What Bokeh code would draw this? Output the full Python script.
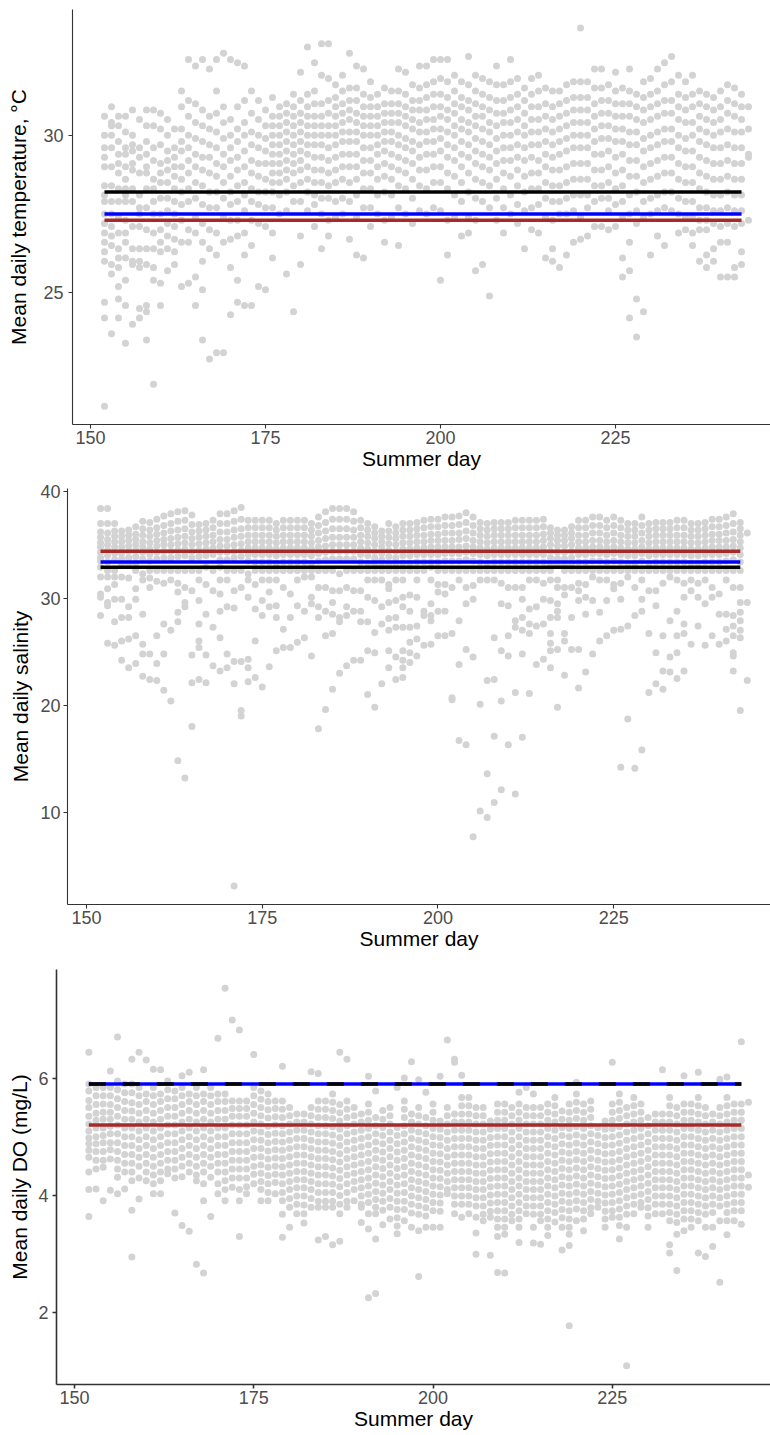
from bokeh.plotting import figure
from bokeh.models import Range1d, FixedTicker
from bokeh.embed import file_html
from bokeh.resources import INLINE

# ---------------- data ----------------
days = list(range(152, 245))
x_ticks = [150, 175, 200, 225]
line_days = [152, 243]

temp_vals = [
    [30.6,30.0,29.6,29.3,29.0,28.4,28.1,27.9,27.5,27.2,26.9,26.6,26.3,26.0,24.7,24.2,21.4],
    [30.9,30.4,30.3,30.0,29.6,29.0,28.4,27.9,27.5,27.1,26.8,26.5,25.9,25.6,23.7],
    [30.6,30.3,29.8,29.4,29.1,28.8,28.3,27.9,27.4,26.9,26.4,26.1,25.8,25.2,24.8,24.2],
    [30.6,30.1,29.6,29.4,29.0,28.6,28.3,28.1,27.9,27.3,26.9,26.6,26.1,25.4,24.6,23.4],
    [30.8,30.0,29.7,29.5,29.1,28.9,28.3,27.9,27.1,26.4,26.0,25.9,24.0],
    [30.5,29.6,29.3,28.8,28.1,27.7,27.5,27.1,26.4,26.0,25.8,24.5,24.2],
    [30.8,30.3,29.8,29.4,29.0,28.8,28.3,27.7,27.0,26.4,25.9,24.6,24.4,23.5],
    [30.8,30.3,29.6,29.2,28.6,28.3,27.9,27.5,26.9,26.4,25.8,25.4,22.1],
    [30.7,30.2,29.7,29.1,28.8,28.5,28.0,27.5,27.0,26.6,26.3,25.3,24.6],
    [30.5,30.0,29.5,29.2,28.9,28.5,28.0,27.6,27.2,26.8,26.4,25.7],
    [30.2,29.6,29.3,29.0,28.7,28.3,27.9,27.5,27.1,26.7,26.3,25.9],
    [31.4,30.9,30.2,29.8,29.5,29.0,28.6,28.2,27.8,27.3,26.6,25.2],
    [32.4,31.1,30.6,30.0,29.6,29.2,28.8,28.3,27.9,27.0,26.6,25.3],
    [32.2,31.0,30.4,29.9,29.4,29.0,28.5,28.0,27.4,26.9,25.5,24.6],
    [32.4,30.8,30.3,29.8,29.3,28.9,28.4,27.8,27.2,26.6,26.0,25.1,23.5],
    [32.1,30.6,30.2,29.7,29.3,28.8,28.2,27.7,27.0,26.4,22.9],
    [32.4,31.4,30.7,30.1,29.6,29.1,28.7,28.2,27.7,26.9,26.2,23.1],
    [32.6,30.9,30.4,29.9,29.4,29.0,28.5,28.0,27.4,26.6,23.1],
    [32.4,30.5,30.0,29.6,29.2,28.7,28.2,27.8,27.3,26.7,25.8,24.3],
    [32.3,30.9,30.2,29.8,29.3,28.9,28.4,27.9,27.3,26.8,25.4,24.7],
    [32.2,31.1,30.4,30.0,29.5,29.0,28.5,28.1,27.6,26.9,26.2,24.6],
    [31.4,30.7,30.1,29.7,29.2,28.8,28.3,27.9,27.3,26.5,24.6],
    [31.1,30.5,30.0,29.6,29.1,28.7,28.2,27.8,27.2,25.2],
    [30.8,30.3,29.9,29.5,29.1,28.6,28.2,27.7,27.1,25.1],
    [31.2,30.6,30.3,30.0,29.7,29.4,29.1,28.8,28.5,28.2,27.7,26.9,26.1],
    [30.9,30.6,30.3,30.0,29.7,29.4,29.1,28.8,28.5,28.1,27.5],
    [31.0,30.7,30.4,30.1,29.8,29.5,29.2,28.9,28.6,28.2,27.6,25.6],
    [31.3,30.9,30.6,30.3,30.0,29.7,29.4,29.1,28.8,28.4,27.9,24.4],
    [32.0,31.1,30.7,30.4,30.1,29.8,29.5,29.2,28.9,28.5,27.9,26.8,25.9],
    [32.8,31.3,30.9,30.6,30.3,30.0,29.7,29.4,29.0,28.6,28.2,27.6],
    [32.3,31.4,31.0,30.6,30.3,30.0,29.7,29.3,28.9,28.5,28.1,27.8,27.1],
    [32.9,31.9,31.0,30.6,30.3,30.0,29.7,29.3,28.9,28.5,28.0,27.5,26.4],
    [32.9,31.8,31.1,30.7,30.3,30.0,29.6,29.2,28.8,28.4,28.0,27.3,26.8],
    [31.6,31.2,30.9,30.6,30.3,30.0,29.7,29.3,28.9,28.5,27.9,27.4],
    [31.9,31.4,31.0,30.7,30.4,30.1,29.8,29.4,29.0,28.6,28.0,27.5],
    [32.6,31.5,31.1,30.8,30.5,30.1,29.8,29.4,29.0,28.5,27.9,26.7],
    [32.2,31.5,31.1,30.7,30.4,30.1,29.8,29.4,29.0,28.6,28.1,27.4,26.2],
    [32.1,31.3,30.9,30.6,30.3,30.0,29.6,29.2,28.8,28.3,27.7,26.1],
    [31.7,31.2,30.9,30.6,30.3,30.0,29.6,29.2,28.8,28.3,27.7,27.1],
    [31.3,30.9,30.6,30.3,30.0,29.7,29.4,29.0,28.6,28.1,27.5],
    [31.5,31.0,30.7,30.4,30.1,29.8,29.5,29.1,28.7,28.2,27.3,26.6],
    [31.4,31.0,30.7,30.4,30.1,29.8,29.4,29.0,28.6,28.1,27.4],
    [32.1,31.4,31.0,30.7,30.4,30.0,29.7,29.3,28.9,28.4,27.7,26.5],
    [32.0,31.3,30.9,30.6,30.3,29.9,29.6,29.2,28.8,28.3,27.5],
    [31.6,31.1,30.8,30.5,30.2,29.8,29.5,29.1,28.6,28.0,27.2],
    [32.2,31.5,31.1,30.8,30.4,30.1,29.7,29.3,28.9,28.4,27.6],
    [32.2,31.6,31.2,30.8,30.5,30.1,29.8,29.4,28.9,28.3,27.5],
    [32.4,31.7,31.3,30.9,30.5,30.2,29.8,29.4,29.0,28.5,27.7],
    [32.4,31.8,31.3,30.9,30.6,30.2,29.9,29.5,29.0,28.5,27.6,25.4],
    [32.4,31.7,31.2,30.8,30.5,30.1,29.7,29.3,28.8,28.3,27.3,26.2],
    [31.9,31.4,31.0,30.7,30.3,30.0,29.6,29.2,28.7,28.1,27.4],
    [31.7,31.2,30.9,30.5,30.2,29.8,29.4,29.0,28.5,27.9,26.8],
    [32.5,31.6,31.1,30.8,30.4,30.1,29.7,29.3,28.8,28.2,27.4,26.9],
    [31.9,31.4,31.0,30.6,30.3,29.9,29.5,29.1,28.6,28.0,27.3,25.7],
    [31.8,31.3,30.9,30.6,30.2,29.8,29.4,29.0,28.5,27.9,25.9],
    [31.7,31.2,30.8,30.4,30.1,29.7,29.3,28.9,28.4,27.7,24.9],
    [32.2,31.6,31.1,30.7,30.3,29.9,29.5,29.1,28.6,28.0,27.3],
    [31.6,31.1,30.7,30.4,30.0,29.6,29.2,28.8,28.3,27.7,26.9],
    [32.4,31.7,31.2,30.8,30.4,30.0,29.6,29.2,28.7,28.1,27.5],
    [31.8,31.3,30.9,30.5,30.1,29.7,29.3,28.9,28.4,27.8,27.2],
    [31.5,31.1,30.7,30.3,30.0,29.6,29.2,28.7,28.2,27.6,26.4],
    [31.8,31.3,30.9,30.5,30.1,29.7,29.3,28.8,28.3,27.7,27.0],
    [31.9,31.4,30.9,30.5,30.1,29.7,29.2,28.8,28.3,27.8,26.9],
    [31.5,31.0,30.6,30.2,29.8,29.4,29.0,28.5,28.0,27.4,26.1],
    [31.4,30.9,30.5,30.1,29.7,29.3,28.9,28.4,27.9,27.3,26.4,26.0],
    [31.4,31.0,30.6,30.2,29.8,29.4,28.9,28.4,27.9,27.5,25.8],
    [31.6,31.1,30.7,30.3,29.9,29.5,29.0,28.5,28.0,27.5,26.2],
    [31.7,31.2,30.8,30.4,30.0,29.6,29.1,28.6,28.1,27.6,26.6],
    [33.4,31.7,31.2,30.8,30.4,30.0,29.6,29.1,28.6,28.1,27.4,26.7],
    [31.7,31.2,30.8,30.4,30.0,29.6,29.1,28.6,28.1,27.7,26.8],
    [32.1,31.5,31.0,30.6,30.2,29.8,29.4,28.9,28.4,27.9,27.1],
    [32.1,31.5,31.1,30.7,30.3,29.9,29.4,28.9,28.4,28.0,27.1],
    [31.6,31.1,30.7,30.3,29.9,29.5,29.0,28.5,28.0,27.6,27.0],
    [32.0,31.4,31.0,30.6,30.2,29.8,29.3,28.8,28.3,27.8,27.1],
    [31.5,31.0,30.6,30.2,29.8,29.4,28.9,28.4,27.9,27.4,26.1,25.5],
    [32.1,31.4,31.0,30.6,30.1,29.7,29.2,28.7,28.1,27.5,26.6,25.7,24.2],
    [31.3,30.9,30.5,30.1,29.7,29.2,28.7,28.2,27.6,27.2,24.8,23.6],
    [31.7,31.2,30.8,30.4,29.9,29.5,29.0,28.5,27.9,27.4,24.4],
    [31.8,31.3,30.9,30.5,30.0,29.6,29.1,28.6,28.0,27.5,26.2],
    [32.1,31.4,31.0,30.6,30.1,29.7,29.2,28.7,28.1,27.6,26.8],
    [32.3,31.6,31.1,30.7,30.2,29.8,29.3,28.8,28.2,27.7,26.5],
    [32.5,31.7,31.1,30.7,30.2,29.8,29.3,28.8,28.2,27.6],
    [31.9,31.3,30.9,30.5,30.0,29.6,29.1,28.6,28.0,27.5,26.9],
    [31.7,31.2,30.8,30.4,29.9,29.5,29.0,28.5,27.9,27.4,27.0],
    [31.9,31.3,30.9,30.4,30.0,29.5,29.0,28.5,27.9,27.4,26.9,26.5],
    [31.4,31.0,30.6,30.2,29.8,29.3,28.8,28.3,27.7,27.3,27.0,26.0],
    [31.3,30.9,30.5,30.1,29.7,29.2,28.7,28.2,27.7,27.3,27.0,26.2,25.8],
    [31.2,30.8,30.4,30.0,29.6,29.1,28.6,28.1,27.6,27.2,26.4,26.0],
    [31.4,30.9,30.5,30.1,29.6,29.1,28.6,28.1,27.6,27.1,26.6,25.5],
    [31.6,31.1,30.7,30.2,29.7,29.2,28.7,28.2,27.7,27.2,26.6,25.5],
    [31.5,31.0,30.6,30.1,29.6,29.1,28.6,28.1,27.6,27.1,25.8,25.5],
    [31.3,30.9,30.5,30.1,29.6,29.1,28.6,28.1,27.6,27.2,26.3,25.9],
    [30.9,30.2,29.4,29.3,27.3],
]

sal_vals = [
    [38.4,37.0,36.2,35.7,35.2,34.8,34.3,33.8,33.5,32.9,32.0,30.4,30.1,28.4],
    [38.4,37.0,36.1,35.5,35.0,34.5,34.0,33.4,32.6,32.0,30.9,29.6,29.3,25.8],
    [37.0,36.3,35.8,35.3,34.8,34.2,33.6,32.6,32.0,31.3,29.9,27.8,25.6],
    [36.3,35.8,35.3,34.8,34.2,33.7,33.1,32.0,29.9,28.2,26.0,24.2],
    [36.4,35.9,35.4,34.9,34.4,33.8,33.2,31.9,29.2,28.2,26.2,23.5],
    [36.7,36.0,35.5,35.0,34.5,33.9,33.3,32.6,30.9,29.9,26.5,23.9],
    [37.2,36.5,35.9,35.3,34.8,34.3,33.7,32.3,31.7,28.5,25.7,24.8,22.7],
    [37.1,36.4,35.8,35.2,34.6,34.1,33.5,32.6,31.9,31.0,24.8,22.4],
    [37.4,36.6,36.0,35.4,34.9,34.3,33.7,32.6,31.6,26.5,23.9,22.3],
    [37.7,36.8,36.1,35.5,35.0,34.4,33.8,32.6,31.4,27.6,24.8,21.4],
    [37.9,37.0,36.3,35.6,35.0,34.4,33.8,32.6,31.7,27.0,20.4],
    [38.1,37.2,36.4,35.7,35.1,34.5,33.9,32.6,31.4,30.6,28.7,27.8,14.8],
    [38.2,37.3,36.5,35.8,35.2,34.6,34.0,32.6,31.0,29.6,29.2,13.2],
    [37.8,36.9,36.2,35.6,35.0,34.4,33.8,32.6,30.7,24.7,22.1,18.0],
    [36.9,36.3,35.7,35.1,34.5,33.9,32.6,31.7,29.8,27.6,26.0,25.4,22.4],
    [37.0,36.4,35.8,35.2,34.6,34.0,32.9,31.3,28.5,24.7,22.1],
    [37.3,36.6,35.9,35.3,34.7,34.1,32.6,30.7,27.3,23.7],
    [37.9,37.0,36.2,35.5,34.9,34.3,33.6,32.9,31.7,30.4,28.8,26.3,23.2],
    [37.9,37.0,36.2,35.5,34.9,34.3,33.6,32.6,31.7,29.2,24.8,23.5],
    [38.2,37.2,36.4,35.7,35.0,34.4,33.8,32.6,30.7,29.1,24.1,22.0,3.1],
    [38.5,37.4,36.5,35.8,35.1,34.5,33.9,32.6,31.0,24.1,19.5,19.0],
    [37.3,36.6,35.9,35.3,34.7,34.1,33.5,32.3,31.7,30.1,24.3,23.5,22.2],
    [37.3,36.6,35.9,35.3,34.7,34.1,33.4,32.6,31.3,29.0,26.0,22.6],
    [37.3,36.6,35.9,35.3,34.7,34.1,33.4,32.6,31.7,29.8,28.4,21.7],
    [37.3,36.6,35.9,35.3,34.7,34.1,33.4,32.6,31.7,30.6,29.2,23.6],
    [37.0,36.4,35.8,35.2,34.6,34.0,33.3,32.6,31.7,29.3,28.2,25.1],
    [37.3,36.6,35.9,35.3,34.7,34.1,33.4,32.6,31.0,27.1,25.4],
    [37.3,36.6,35.9,35.3,34.7,34.1,33.4,32.6,30.4,28.2,25.4],
    [37.3,36.6,35.9,35.3,34.7,34.1,33.4,32.6,31.7,29.3,25.9],
    [37.3,36.6,35.9,35.3,34.7,34.1,33.4,32.6,32.0,28.8,26.3],
    [37.0,36.4,35.8,35.2,34.6,34.0,33.3,32.6,32.0,30.1,29.5,24.6],
    [37.6,36.8,36.1,35.4,34.8,34.2,33.5,32.6,31.0,29.2,28.2,17.8],
    [38.1,37.1,36.3,35.6,34.9,34.3,33.6,32.6,31.0,28.8,26.5,19.6],
    [38.4,37.4,36.5,35.7,35.0,34.4,33.7,32.6,30.7,29.6,28.5,26.7,21.5],
    [38.4,37.4,36.5,35.7,35.0,34.4,33.7,32.3,30.7,28.2,27.8,23.0],
    [38.4,37.4,36.5,35.7,35.0,34.4,33.7,32.6,31.0,29.2,28.4,23.7],
    [38.1,37.2,36.4,35.7,35.0,34.4,33.7,32.6,30.7,28.8,24.2],
    [37.3,36.6,35.9,35.3,34.7,34.1,33.4,32.6,30.7,28.8,27.8,24.2],
    [37.0,36.4,35.8,35.2,34.6,34.0,33.3,32.6,31.7,30.1,27.8,25.1,21.0],
    [36.7,36.1,35.6,35.0,34.4,33.8,33.2,32.6,31.7,29.8,26.8,24.9,19.8],
    [36.3,35.8,35.3,34.8,34.2,33.6,33.0,32.6,31.7,29.2,27.6,22.0],
    [37.0,36.3,35.7,35.1,34.5,33.9,33.2,32.6,31.3,30.9,29.6,28.1,27.0,25.1,23.5],
    [36.7,36.1,35.6,35.0,34.4,33.8,33.2,32.6,31.7,29.8,28.2,27.3,24.5,22.4],
    [37.0,36.4,35.8,35.2,34.6,34.0,33.3,32.6,31.7,30.1,29.2,27.3,25.1,24.2,23.5,22.6],
    [37.0,36.4,35.8,35.2,34.6,34.0,33.3,32.6,30.3,28.8,27.3,25.9,24.9,24.0],
    [37.1,36.5,35.9,35.3,34.7,34.1,33.4,32.6,31.7,30.1,27.4,26.2,24.6],
    [37.3,36.6,35.9,35.3,34.7,34.1,33.4,32.6,28.8,28.4,25.6],
    [37.4,36.7,36.0,35.4,34.8,34.1,33.4,32.9,31.7,29.5,28.4,27.9,25.7],
    [37.4,36.7,36.0,35.4,34.8,34.1,33.4,32.6,31.3,30.6,28.8,26.5],
    [37.6,36.8,36.1,35.4,34.8,34.2,33.5,32.6,31.3,30.4,28.8,26.5],
    [37.6,36.8,36.1,35.4,34.8,34.2,33.5,32.6,31.0,26.7,20.7,20.5],
    [37.7,36.9,36.1,35.5,34.8,34.2,33.5,32.6,31.7,27.9,23.8,16.7],
    [38.0,37.1,36.3,35.6,34.9,34.3,33.6,32.6,31.0,29.5,25.2,16.3],
    [37.6,36.8,36.1,35.4,34.8,34.2,33.5,32.6,31.2,29.9,24.5,7.7],
    [37.1,36.5,35.9,35.3,34.7,34.1,33.4,32.6,31.7,20.1,10.1],
    [37.0,36.4,35.8,35.2,34.6,34.0,33.3,32.6,31.7,22.3,13.6,9.5],
    [37.1,36.5,35.9,35.3,34.7,34.1,33.4,32.6,31.7,26.3,22.4,17.1,10.9],
    [37.1,36.5,35.9,35.3,34.7,34.1,33.4,32.6,31.4,29.5,25.1,20.4,12.1],
    [37.1,36.5,35.9,35.3,34.7,34.1,33.4,32.6,31.0,29.3,26.5,24.6,16.3],
    [37.3,36.6,35.9,35.3,34.7,34.1,33.4,32.6,31.0,27.9,27.3,21.2,11.7],
    [37.3,36.6,35.9,35.3,34.7,34.1,33.4,32.6,31.0,29.9,28.2,27.0,24.8,17.0],
    [37.3,36.6,35.9,35.3,34.7,34.1,33.4,32.6,31.7,29.0,27.6,26.7,21.1],
    [37.3,36.6,35.9,35.3,34.7,34.1,33.4,32.6,31.7,29.2,27.4,23.8],
    [37.4,36.7,36.0,35.4,34.8,34.1,33.4,32.6,31.4,29.9,27.6,24.3],
    [36.6,36.1,35.6,35.0,34.4,33.8,33.2,32.6,31.7,29.8,28.2,26.7,25.8,25.1,23.5],
    [36.4,35.9,35.4,34.9,34.3,33.7,33.1,31.7,31.0,29.5,28.8,28.2,25.2,19.8],
    [36.4,35.9,35.4,34.9,34.3,33.7,33.1,32.6,31.0,30.3,26.7,26.0,22.8],
    [36.7,36.1,35.6,35.0,34.4,33.8,33.2,32.6,31.0,28.2,25.2],
    [37.3,36.6,35.9,35.3,34.7,34.1,33.4,32.6,31.4,30.7,29.8,25.2,21.6],
    [37.3,36.6,35.9,35.3,34.7,34.1,33.4,32.6,31.3,30.1,28.5,23.1],
    [37.6,36.8,36.1,35.4,34.8,34.2,33.5,32.6,32.0,29.8,24.8],
    [37.6,36.8,36.1,35.4,34.8,34.2,33.5,32.6,31.7,28.7,26.0],
    [37.3,36.6,35.9,35.3,34.7,34.1,33.4,32.6,31.7,29.8,26.5],
    [37.6,36.8,36.1,35.4,34.8,34.2,33.5,32.6,31.3,30.9,27.0],
    [37.3,36.6,35.9,35.3,34.7,34.1,33.4,32.6,31.4,29.9,27.1,14.2],
    [37.0,36.4,35.8,35.2,34.6,34.0,33.3,32.6,32.0,27.4,18.7],
    [37.0,36.4,35.8,35.2,34.6,34.0,33.3,32.6,31.0,28.4,14.1],
    [37.6,36.8,36.1,35.4,34.8,34.2,33.5,32.6,31.7,29.9,28.8,15.8],
    [37.0,36.4,35.8,35.2,34.6,34.0,33.3,32.6,30.7,26.7,21.2],
    [37.1,36.5,35.9,35.3,34.7,34.1,33.4,32.6,30.7,29.3,24.9,22.0],
    [37.1,36.5,35.9,35.3,34.7,34.1,33.4,32.6,31.4,26.5,23.2,21.5],
    [37.1,36.5,35.9,35.3,34.7,34.1,33.4,32.6,32.0,27.9,24.5,23.1],
    [37.3,36.6,35.9,35.3,34.7,34.1,33.4,32.6,31.7,28.8,26.5,24.9,22.5],
    [37.3,36.6,35.9,35.3,34.7,34.1,33.4,32.6,31.4,30.1,27.6,26.7,23.2],
    [37.0,36.4,35.8,35.2,34.6,34.0,33.3,32.6,31.7,30.7,25.7],
    [37.0,36.4,35.8,35.2,34.6,34.0,33.3,32.6,31.4,30.1,27.4],
    [37.1,36.5,35.9,35.3,34.7,34.1,33.4,32.6,31.7,29.5,25.6],
    [37.4,36.7,36.0,35.4,34.8,34.1,33.4,32.6,31.0,30.1,26.5],
    [37.4,36.7,36.0,35.4,34.8,34.1,33.4,32.6,30.4,28.5,25.7],
    [37.6,36.8,36.1,35.4,34.8,34.2,33.5,32.6,31.7,28.5,27.1,26.0],
    [37.9,37.0,36.2,35.5,34.9,34.3,33.6,32.6,31.0,28.4,27.4,26.5,24.9,24.6,23.2],
    [37.1,36.5,35.9,35.3,34.7,34.1,33.4,32.6,31.0,29.6,28.7,27.9,27.0,26.3,19.5],
    [36.1,29.6,22.3],
]

do_vals = [
    [6.44,5.9,5.78,5.62,5.5,5.35,5.22,5.1,4.98,4.88,4.77,4.65,4.4,4.1,3.64],
    [5.84,5.7,5.55,5.4,5.28,5.15,5.0,4.88,4.75,4.6,4.45,4.11],
    [5.84,5.7,5.56,5.42,5.3,5.15,5.02,4.9,4.75,4.6,4.48,3.91],
    [6.12,5.84,5.7,5.55,5.42,5.3,5.18,5.05,4.9,4.78,4.62,4.09],
    [6.70,5.95,5.8,5.65,5.5,5.35,5.2,5.05,4.9,4.75,4.6,4.45,4.31,4.03],
    [5.9,5.75,5.6,5.45,5.3,5.15,5.0,4.85,4.7,4.55,4.4,4.11],
    [6.32,5.9,5.75,5.58,5.44,5.3,5.15,5.0,4.85,4.7,4.55,4.4,4.25,3.75,2.95],
    [6.44,5.84,5.7,5.55,5.4,5.25,5.1,4.95,4.8,4.65,4.5,4.3,3.94],
    [6.31,5.73,5.6,5.45,5.3,5.15,5.0,4.85,4.7,4.55,4.4,4.25],
    [6.15,5.84,5.7,5.55,5.4,5.25,5.1,4.95,4.8,4.65,4.5,4.35,4.2,4.03],
    [6.14,5.73,5.6,5.45,5.3,5.15,5.0,4.85,4.7,4.55,4.4,4.25,4.03],
    [5.95,5.8,5.65,5.5,5.35,5.2,5.05,4.9,4.75,4.6,4.45,4.37],
    [5.78,5.65,5.5,5.35,5.2,5.05,4.9,4.75,4.6,4.45,4.3,3.70],
    [6.04,5.84,5.7,5.55,5.4,5.25,5.1,4.95,4.8,4.65,4.5,4.32,3.49],
    [6.10,5.73,5.6,5.45,5.3,5.15,5.0,4.85,4.7,4.55,4.4,3.39],
    [5.84,5.7,5.55,5.4,5.25,5.1,4.95,4.8,4.65,4.5,4.35,4.25,2.83],
    [6.14,5.73,5.6,5.45,5.3,5.15,5.0,4.85,4.7,4.55,4.4,4.2,3.91,2.68],
    [5.84,5.7,5.55,5.4,5.25,5.1,4.95,4.8,4.65,4.5,4.31,3.64],
    [6.68,5.73,5.6,5.45,5.3,5.15,5.0,4.85,4.7,4.55,4.4,4.2,4.03],
    [7.53,5.73,5.6,5.45,5.3,5.15,5.0,4.85,4.7,4.55,4.4,4.25,4.1,3.91],
    [6.99,5.61,5.48,5.35,5.2,5.05,4.9,4.75,4.6,4.45,4.3,4.14],
    [6.82,5.61,5.48,5.35,5.2,5.05,4.9,4.75,4.6,4.45,4.3,4.1,3.91,3.30],
    [5.61,5.48,5.35,5.2,5.05,4.9,4.75,4.6,4.45,4.3,4.15,4.03],
    [6.40,5.84,5.7,5.55,5.4,5.25,5.1,4.95,4.8,4.65,4.5,4.36,4.2],
    [5.78,5.64,5.5,5.36,5.22,5.08,4.94,4.8,4.66,4.52,4.38,4.24,4.1,3.91],
    [5.73,5.6,5.46,5.32,5.18,5.04,4.9,4.76,4.62,4.48,4.34,4.2,4.05,3.91],
    [5.61,5.48,5.34,5.2,5.06,4.92,4.78,4.64,4.5,4.36,4.22,4.03],
    [6.20,5.61,5.47,5.33,5.19,5.05,4.91,4.77,4.63,4.49,4.35,4.2,4.05,3.91,3.68,3.29],
    [5.5,5.36,5.22,5.08,4.94,4.8,4.66,4.52,4.38,4.24,4.1,3.95,3.8,3.46],
    [5.39,5.25,5.11,4.97,4.83,4.69,4.55,4.41,4.27,4.13,3.99,3.85,3.69],
    [5.39,5.25,5.11,4.97,4.83,4.69,4.55,4.41,4.27,4.13,3.99,3.84,3.69,3.53],
    [6.11,5.5,5.36,5.22,5.08,4.94,4.8,4.66,4.52,4.38,4.24,4.1,3.95,3.8],
    [6.08,5.61,5.47,5.33,5.19,5.05,4.91,4.77,4.63,4.49,4.35,4.2,4.05,3.9,3.8,3.24],
    [5.61,5.47,5.33,5.19,5.05,4.91,4.77,4.63,4.49,4.35,4.2,4.05,3.9,3.8,3.30],
    [5.73,5.59,5.45,5.31,5.17,5.03,4.89,4.75,4.61,4.47,4.33,4.19,4.05,3.9,3.8,3.16],
    [6.44,5.55,5.41,5.27,5.13,4.99,4.85,4.71,4.57,4.43,4.29,4.15,4.0,3.85,3.69,3.22],
    [6.32,5.61,5.47,5.33,5.19,5.05,4.91,4.77,4.63,4.49,4.35,4.2,4.05,3.9,3.8],
    [5.5,5.36,5.22,5.08,4.94,4.8,4.66,4.52,4.38,4.24,4.1,3.91],
    [5.39,5.25,5.11,4.97,4.83,4.69,4.55,4.41,4.27,4.13,3.99,3.85,3.8,3.54],
    [6.03,5.56,5.42,5.28,5.14,5.0,4.86,4.72,4.58,4.44,4.3,4.16,4.02,3.88,3.69,3.43,2.26],
    [5.78,5.33,5.19,5.05,4.91,4.77,4.63,4.49,4.35,4.21,4.07,3.93,3.8,3.69,3.26,2.33],
    [5.45,5.3,5.16,5.02,4.88,4.74,4.6,4.46,4.32,4.18,4.04,3.9,3.75,3.5],
    [5.5,5.36,5.22,5.08,4.94,4.8,4.66,4.52,4.38,4.24,4.1,3.95,3.8,3.6],
    [5.84,5.16,5.02,4.88,4.74,4.6,4.46,4.32,4.18,4.04,3.9,3.76,3.62,3.48,3.35],
    [6.0,5.61,5.47,5.33,5.19,5.05,4.91,4.77,4.63,4.49,4.35,4.2,4.05,3.9,3.76,3.57],
    [6.28,5.39,5.25,5.11,4.97,4.83,4.69,4.55,4.41,4.27,4.13,3.99,3.85,3.7,3.46],
    [5.97,5.5,5.36,5.22,5.08,4.94,4.8,4.66,4.52,4.38,4.24,4.1,3.96,3.82,3.68,3.4,2.62],
    [5.76,5.33,5.19,5.05,4.91,4.77,4.63,4.49,4.35,4.21,4.07,3.93,3.79,3.65,3.46],
    [5.56,5.42,5.28,5.14,5.0,4.86,4.72,4.58,4.44,4.3,4.16,4.02,3.88,3.74,3.46],
    [6.03,5.27,5.13,4.99,4.85,4.71,4.57,4.43,4.29,4.15,4.01,3.87,3.73,3.46],
    [6.65,5.5,5.36,5.22,5.08,4.94,4.8,4.66,4.52,4.38,4.24,4.1,4.03],
    [6.32,6.27,5.39,5.25,5.11,4.97,4.83,4.69,4.55,4.41,4.27,4.13,3.99,3.85,3.69],
    [6.05,5.67,5.53,5.39,5.25,5.11,4.97,4.83,4.69,4.55,4.41,4.27,4.13,3.99,3.85,3.63],
    [5.67,5.53,5.39,5.25,5.11,4.97,4.83,4.69,4.55,4.41,4.27,4.13,3.99,3.85,3.69],
    [5.5,5.36,5.22,5.08,4.94,4.8,4.66,4.52,4.38,4.24,4.1,3.96,3.82,3.63,3.36,3.0],
    [5.5,5.36,5.22,5.08,4.94,4.8,4.66,4.52,4.38,4.24,4.1,3.96,3.82,3.68,3.57],
    [5.27,5.13,4.99,4.85,4.71,4.57,4.43,4.29,4.15,4.01,3.87,3.73,3.63,2.98],
    [5.56,5.42,5.28,5.14,5.0,4.86,4.72,4.58,4.44,4.3,4.16,4.02,3.88,3.74,3.6,3.46,3.3,2.69],
    [5.56,5.42,5.28,5.14,5.0,4.86,4.72,4.58,4.44,4.3,4.16,4.02,3.88,3.74,3.6,3.46,3.34,2.68],
    [5.5,5.36,5.22,5.08,4.94,4.8,4.66,4.52,4.38,4.24,4.1,3.96,3.82,3.68,3.57],
    [5.76,5.56,5.42,5.28,5.14,5.0,4.86,4.72,4.58,4.44,4.3,4.16,4.02,3.88,3.74,3.6,3.46,3.2],
    [5.84,5.5,5.36,5.22,5.08,4.94,4.8,4.66,4.52,4.38,4.24,4.1,3.96,3.82,3.69],
    [5.73,5.5,5.36,5.22,5.08,4.94,4.8,4.66,4.52,4.38,4.24,4.1,3.96,3.82,3.68,3.46,3.19],
    [5.5,5.36,5.22,5.08,4.94,4.8,4.66,4.52,4.38,4.24,4.1,3.96,3.82,3.68,3.57,3.17],
    [5.56,5.42,5.28,5.14,5.0,4.86,4.72,4.58,4.44,4.3,4.16,4.02,3.88,3.74,3.6,3.46,3.32],
    [5.67,5.53,5.39,5.25,5.11,4.97,4.83,4.69,4.55,4.41,4.27,4.13,3.99,3.85,3.71,3.55],
    [5.44,5.3,5.16,5.02,4.88,4.74,4.6,4.46,4.32,4.18,4.04,3.9,3.76,3.62,3.46,3.07],
    [5.56,5.42,5.28,5.14,5.0,4.86,4.72,4.58,4.44,4.3,4.16,4.02,3.88,3.74,3.6,3.46,3.34,3.15,1.78],
    [5.93,5.73,5.59,5.45,5.31,5.17,5.03,4.89,4.75,4.61,4.47,4.33,4.19,4.05,3.91,3.77,3.57],
    [5.56,5.42,5.28,5.14,5.0,4.86,4.72,4.58,4.44,4.3,4.16,4.02,3.88,3.74,3.6,3.4],
    [5.61,5.47,5.33,5.19,5.05,4.91,4.77,4.63,4.49,4.35,4.21,4.07,3.93,3.79,3.69],
    [5.16,5.02,4.88,4.74,4.6,4.46,4.32,4.18,4.04,3.9,3.8],
    [5.27,5.13,4.99,4.85,4.71,4.57,4.43,4.29,4.15,4.01,3.87,3.73,3.6,3.46],
    [6.27,5.56,5.42,5.28,5.14,5.0,4.86,4.72,4.58,4.44,4.3,4.16,4.02,3.88,3.74,3.63],
    [5.73,5.59,5.45,5.31,5.17,5.03,4.89,4.75,4.61,4.47,4.33,4.19,4.05,3.91,3.77,3.63,3.49,3.26],
    [5.5,5.36,5.22,5.08,4.94,4.8,4.66,4.52,4.38,4.24,4.1,3.96,3.82,3.68,3.46,1.10],
    [5.67,5.53,5.39,5.25,5.11,4.97,4.83,4.69,4.55,4.41,4.27,4.13,3.99,3.85,3.69],
    [5.56,5.42,5.28,5.14,5.0,4.86,4.72,4.58,4.44,4.3,4.16,4.02,3.88,3.8],
    [5.33,5.19,5.05,4.91,4.77,4.63,4.49,4.35,4.21,4.07,3.93,3.79,3.65,3.46],
    [5.39,5.25,5.11,4.97,4.83,4.69,4.55,4.41,4.27,4.13,3.99,3.85,3.69],
    [6.14,5.39,5.25,5.11,4.97,4.83,4.69,4.55,4.41,4.27,4.13,3.99,3.85,3.69],
    [5.67,5.53,5.39,5.25,5.11,4.97,4.83,4.69,4.55,4.41,4.27,4.13,3.99,3.85,3.71,3.57,3.16,3.02],
    [5.5,5.36,5.22,5.08,4.94,4.8,4.66,4.52,4.38,4.24,4.1,3.96,3.82,3.68,3.54,3.34,2.72],
    [6.04,5.56,5.42,5.28,5.14,5.0,4.86,4.72,4.58,4.44,4.3,4.16,4.02,3.88,3.74,3.6,3.4],
    [5.56,5.42,5.28,5.14,5.0,4.86,4.72,4.58,4.44,4.3,4.16,4.02,3.88,3.74,3.6,3.46],
    [6.10,5.67,5.53,5.39,5.25,5.11,4.97,4.83,4.69,4.55,4.41,4.27,4.13,3.99,3.85,3.71,3.57,3.02],
    [5.5,5.36,5.22,5.08,4.94,4.8,4.66,4.52,4.38,4.24,4.1,3.96,3.82,3.68,3.46,2.96],
    [5.39,5.25,5.11,4.97,4.83,4.69,4.55,4.41,4.27,4.13,3.99,3.85,3.71,3.46,3.13],
    [5.98,5.5,5.36,5.22,5.08,4.94,4.8,4.66,4.52,4.38,4.24,4.1,3.96,3.82,3.57,2.52],
    [6.02,5.67,5.53,5.39,5.25,5.11,4.97,4.83,4.69,4.55,4.41,4.27,4.13,3.99,3.85,3.71,3.57,3.33],
    [5.56,5.42,5.28,5.14,5.0,4.86,4.72,4.58,4.44,4.3,4.16,4.02,3.88,3.74,3.57],
    [6.62,5.56,5.42,5.28,5.14,5.0,4.86,4.72,4.58,4.44,4.3,4.16,4.02,3.88,3.74,3.51],
    [5.59,4.35,4.14],
]

# reference lines
temp_ref_values = [27.3, 27.5, 28.2]
temp_ref_colors = ["#A52A2A", "#0000FF", "#000000"]
sal_ref_values = [34.4, 33.4, 32.9]
sal_ref_colors = ["#A52A2A", "#0000FF", "#000000"]
do_ref_values = [5.2, 5.9, 5.9]
do_ref_colors = ["#A52A2A", "#0000FF", "#000000"]
do_ref_dashes = ["solid", "solid", "17 17"]

temp_ticks = [25, 30]
sal_ticks = [10, 20, 30, 40]
do_ticks = [2, 4, 6]

FONT = "Liberation Sans"


def panel(vals, ylabel, yr, yticks, xr, fw, fh, left, top, bottom,
          lab_standoff, tick_standoff, ref_vals, ref_cols, ref_dashes, axis_w):
    p = figure(frame_width=fw, frame_height=fh,
               x_range=Range1d(*xr), y_range=Range1d(*yr),
               output_backend="svg", toolbar_location=None,
               min_border_left=left, min_border_right=0,
               min_border_top=top, min_border_bottom=bottom)
    p.outline_line_color = None
    p.xgrid.visible = False
    p.ygrid.visible = False
    p.background_fill_color = "white"
    p.border_fill_color = "white"

    xs = [d for d, v in zip(days, vals) for _ in v]
    ys = [y for v in vals for y in v]
    p.scatter(xs, ys, size=7, fill_color="#D3D3D3", line_color=None)

    for val, col, dash in zip(ref_vals, ref_cols, ref_dashes):
        p.line(line_days, [val, val], line_color=col, line_width=3.6,
               line_dash=dash)

    p.xaxis.ticker = FixedTicker(ticks=x_ticks)
    p.yaxis.ticker = FixedTicker(ticks=yticks)
    p.xaxis.axis_label = "Summer day"
    p.yaxis.axis_label = ylabel
    for ax in (p.xaxis[0], p.yaxis[0]):
        ax.axis_line_color = "#333333"
        ax.axis_line_width = axis_w
        ax.major_tick_line_color = "#333333"
        ax.major_tick_line_width = axis_w
        ax.major_tick_out = 4
        ax.major_tick_in = 0
        ax.minor_tick_line_color = None
        ax.major_label_text_font = FONT
        ax.major_label_text_font_size = "18px"
        ax.major_label_text_color = "#4D4D4D"
        ax.axis_label_text_font = FONT
        ax.axis_label_text_font_size = "21px"
        ax.axis_label_text_color = "black"
        ax.axis_label_text_font_style = "normal"
    p.xaxis.major_label_standoff = 2
    p.xaxis.axis_label_standoff = 0
    p.yaxis.major_label_standoff = tick_standoff
    p.yaxis.axis_label_standoff = lab_standoff
    return p


p1 = panel(temp_vals, "Mean daily temperature, \u00b0C", (20.82, 33.99), temp_ticks,
           (147.43, 247.14), 698, 415, 72, 9, 48, 10, 5,
           temp_ref_values, temp_ref_colors, ["solid"] * 3, 1.1)
p2 = panel(sal_vals, "Mean daily salinity", (1.36, 40.27), sal_ticks,
           (147.3, 247.3), 703, 416, 67, 16, 48, 5, 3,
           sal_ref_values, sal_ref_colors, ["solid"] * 3, 1.1)
p3 = panel(do_vals, "Mean daily DO (mg/L)", (0.78, 7.85), do_ticks,
           (147.49, 247.07), 714, 415, 56, 17, 48, 4, 4,
           do_ref_values, do_ref_colors, do_ref_dashes, 1.6)

open("out.html", "w").write(file_html([p1, p2, p3], INLINE))
